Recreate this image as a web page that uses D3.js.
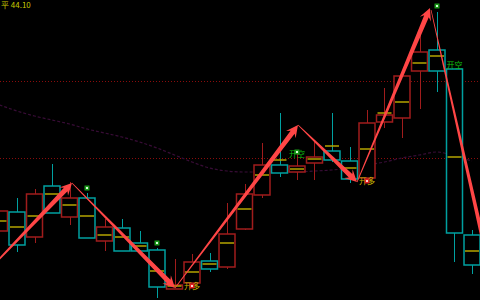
<!DOCTYPE html>
<html>
<head>
<meta charset="utf-8">
<script src="https://cdn.jsdelivr.net/npm/d3@7/dist/d3.min.js"></script>
<style>
  html, body { margin: 0; padding: 0; background: #000; }
  svg { display: block; }
</style>
</head>
<body>
<svg id="chart" width="480" height="300"></svg>
<script>
// candle data (index 0..27)
let opens  = [41.38, 41.76, 41.26, 42.28, 41.66, 42.04, 41.18, 41.44, 41.14, 41.00, 40.22, 40.34, 40.78, 40.66,
              41.42, 42.10, 42.70, 42.56, 42.74, 42.98, 42.78, 42.44, 43.56, 43.64, 44.58, 45.00, 44.62, 41.30];
let highs  = [41.78, 42.04, 42.22, 42.72, 42.36, 42.14, 41.62, 41.62, 41.38, 41.04, 40.82, 40.92, 40.94, 41.94,
              42.32, 43.14, 43.74, 42.94, 43.20, 43.74, 43.06, 43.80, 44.24, 44.48, 45.40, 45.76, 44.62, 41.40];
let lows   = [41.38, 40.96, 41.14, 41.74, 41.50, 41.24, 40.98, 40.98, 40.98, 40.04, 40.22, 40.34, 40.56, 40.62,
              41.40, 42.04, 42.46, 42.40, 42.40, 42.76, 42.34, 42.44, 43.44, 43.24, 43.82, 44.16, 40.76, 40.52];
let closes = [41.78, 41.10, 42.12, 41.74, 42.04, 41.24, 41.46, 40.98, 40.98, 40.26, 40.30, 40.76, 40.62, 41.32,
              42.12, 42.70, 42.54, 42.68, 42.86, 42.80, 42.42, 43.54, 43.70, 44.48, 44.96, 44.58, 41.34, 40.70];
// yellow mark inside each candle
let marks  = [41.58, 41.46, 41.68, 42.12, 41.90, 41.68, 41.30, 41.26, 41.08, 40.58, 40.28, 40.56, 40.72, 41.14,
              41.82, 42.50, 42.80, 42.62, 42.82, 43.08, 42.64, 43.02, 43.74, 43.96, 44.74, 44.88, 42.86, 40.98];
// slow average (purple dashed)
let avgLine = [43.90, 43.78, 43.68, 43.60, 43.52, 43.42, 43.34, 43.26, 43.16, 43.04, 42.90, 42.76, 42.64, 42.58,
               42.56, 42.56, 42.56, 42.56, 42.58, 42.60, 42.64, 42.70, 42.76, 42.84, 42.90, 42.96, 42.88, 42.78];
let levels = [44.38, 42.84];

// signals
let buyIdx = [11, 21], buyPrice = [40.28, 42.38];
let dotIdx = [5, 9, 17, 25], dotPrice = [42.24, 41.14, 42.96, 45.88];
let sellLabelIdx = [17, 26], sellLabelPrice = [42.92, 44.70];

// swing arrows: [idx, price]
let arrowFrom = [[-1, 40.46], [4.14, 42.34], [10.03, 40.24], [17.06, 43.50], [20.43, 42.36], [24.66, 45.80]];
let arrowTo   = [[4.14, 42.34], [10.03, 40.24], [17.06, 43.50], [20.43, 42.36], [24.6, 45.84], [28.6, 39.70]];

let width = 480, height = 300;
let svg = d3.select("#chart");

let x = d3.scaleLinear().domain([0, 27]).range([-0.5, 472]);
let y = d3.scaleLinear().domain([40, 46]).range([height, 0]);
let cw = 16;

let upColor = "#a01c1c", downColor = "#00a0a0";

svg.append("rect").attr("width", width).attr("height", height).attr("fill", "#000");

// dotted levels
svg.selectAll(".level")
    .data(levels)
    .enter()
    .append("line")
    .attr("x1", 0).attr("x2", width)
    .attr("y1", d => Math.round(y(d)) + 0.5)
    .attr("y2", d => Math.round(y(d)) + 0.5)
    .attr("stroke", "#8a0c0c")
    .attr("stroke-dasharray", "1,2");

// purple average
svg.append("path")
    .datum(avgLine)
    .attr("fill", "none")
    .attr("stroke", "#380c36")
    .attr("stroke-width", 1.2)
    .attr("stroke-dasharray", "3,2")
    .attr("d", d3.line().x((d, i) => x(i)).y(d => y(d)).curve(d3.curveMonotoneX));

let candles = svg.selectAll(".candle")
    .data(d3.range(opens.length))
    .enter()
    .append("g")
    .attr("class", "candle");

function col(i) { return closes[i] >= opens[i] ? upColor : downColor; }

// upper and lower wicks
candles.append("line")
    .attr("x1", i => Math.round(x(i)) + 0.5).attr("x2", i => Math.round(x(i)) + 0.5)
    .attr("y1", i => y(highs[i]))
    .attr("y2", i => y(Math.max(opens[i], closes[i])))
    .attr("stroke", col);
candles.append("line")
    .attr("x1", i => Math.round(x(i)) + 0.5).attr("x2", i => Math.round(x(i)) + 0.5)
    .attr("y1", i => y(Math.min(opens[i], closes[i])))
    .attr("y2", i => y(lows[i]))
    .attr("stroke", col);

candles.append("rect")
    .attr("x", i => x(i) - cw / 2)
    .attr("width", cw)
    .attr("y", i => y(Math.max(opens[i], closes[i])))
    .attr("height", i => Math.max(1, Math.abs(y(opens[i]) - y(closes[i]))))
    .attr("fill", "#000")
    .attr("stroke", col)
    .attr("stroke-width", 1.5);

candles.append("line")
    .attr("x1", i => x(i) - cw / 2 + 1)
    .attr("x2", i => x(i) + cw / 2 - 1)
    .attr("y1", i => y(marks[i]))
    .attr("y2", i => y(marks[i]))
    .attr("stroke", "#b4a400")
    .attr("stroke-width", 1.5);

// tapered arrow polygon
function arrowPath(a, b) {
    let x0 = x(a[0]), y0 = y(a[1]), x1 = x(b[0]), y1 = y(b[1]);
    let dx = x1 - x0, dy = y1 - y0, len = Math.sqrt(dx * dx + dy * dy);
    let ux = dx / len, uy = dy / len, nx = -uy, ny = ux;
    let L = 12, H = 6, w0 = 0.4, w1 = 2.5;
    let bx = x1 - ux * L * 0.75, by = y1 - uy * L * 0.75;
    let hx = x1 - ux * L, hy = y1 - uy * L;
    let p = [
        [x0 + nx * w0, y0 + ny * w0],
        [bx + nx * w1, by + ny * w1],
        [hx + nx * H, hy + ny * H],
        [x1, y1],
        [hx - nx * H, hy - ny * H],
        [bx - nx * w1, by - ny * w1],
        [x0 - nx * w0, y0 - ny * w0]
    ];
    return "M" + p.map(q => q[0].toFixed(1) + "," + q[1].toFixed(1)).join("L") + "Z";
}

svg.selectAll(".arrow")
    .data(d3.range(arrowFrom.length))
    .enter()
    .append("path")
    .attr("class", "arrow")
    .attr("fill", "#ff4646")
    .attr("d", i => arrowPath(arrowFrom[i], arrowTo[i]));

// labels
let font = "'Noto Sans CJK SC', sans-serif";
svg.selectAll(".buy")
    .data(d3.range(buyIdx.length))
    .enter()
    .append("text")
    .attr("x", i => x(buyIdx[i]))
    .attr("y", i => y(buyPrice[i]) + 3)
    .attr("text-anchor", "middle")
    .attr("font-family", font)
    .attr("font-size", 8)
    .attr("fill", "#c8b400")
    .text("开多");

svg.selectAll(".sell")
    .data(d3.range(sellLabelIdx.length))
    .enter()
    .append("text")
    .attr("x", i => x(sellLabelIdx[i]))
    .attr("y", i => y(sellLabelPrice[i]) + 3)
    .attr("text-anchor", "middle")
    .attr("font-family", font)
    .attr("font-size", 8)
    .attr("fill", "#10c010")
    .text("开空");

// red buy dots
svg.selectAll(".bdot")
    .data(d3.range(buyIdx.length))
    .enter()
    .append("rect")
    .attr("x", i => x(buyIdx[i]) - 2.5)
    .attr("y", i => y(buyPrice[i]) - 2.5)
    .attr("width", 5).attr("height", 5)
    .attr("fill", "#e02020");
svg.selectAll(".bdotc")
    .data(d3.range(buyIdx.length))
    .enter()
    .append("rect")
    .attr("x", i => x(buyIdx[i]) - 1)
    .attr("y", i => y(buyPrice[i]) - 1)
    .attr("width", 2).attr("height", 2)
    .attr("fill", "#ffd0d0");

// green dots
svg.selectAll(".gdot")
    .data(d3.range(dotIdx.length))
    .enter()
    .append("rect")
    .attr("x", i => x(dotIdx[i]) - 2.5)
    .attr("y", i => y(dotPrice[i]) - 2.5)
    .attr("width", 5).attr("height", 5)
    .attr("fill", "#1a9a1a");
svg.selectAll(".gdotc")
    .data(d3.range(dotIdx.length))
    .enter()
    .append("rect")
    .attr("x", i => x(dotIdx[i]) - 1)
    .attr("y", i => y(dotPrice[i]) - 1)
    .attr("width", 2).attr("height", 2)
    .attr("fill", "#d8ffd8");

svg.append("text")
    .attr("x", 1)
    .attr("y", 8)
    .attr("font-family", font)
    .attr("font-size", 8)
    .attr("fill", "#c8c800")
    .text("平 44.10");
</script>
</body>
</html>
